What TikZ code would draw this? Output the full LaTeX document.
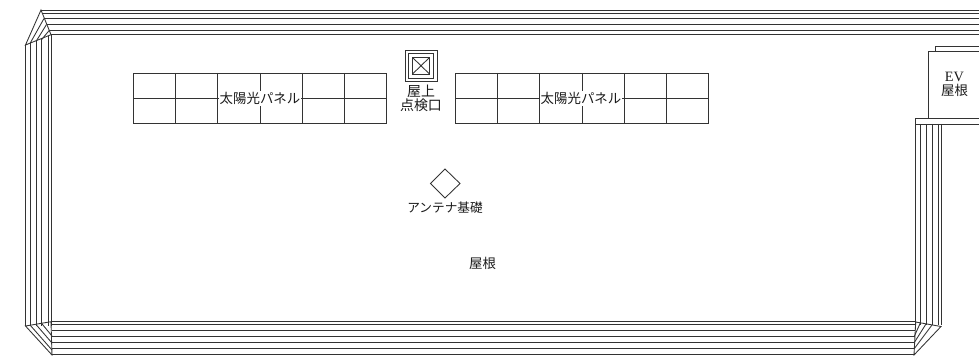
\documentclass[tikz,border=0pt]{standalone}
\usepackage{fontspec}
\setmainfont{Liberation Serif}
\newfontfamily\jp{Noto Sans CJK JP}[Scale=0.95]
\tikzset{
  x=0.75pt,y=-0.75pt,
  ln/.style={draw=black!80,line width=0.65pt},
  lab/.style={font=\jp\fontsize{10.6pt}{11pt}\selectfont,text=black!90,align=center,inner sep=0pt},
  wlab/.style={lab,fill=white,inner xsep=0.6pt,inner ysep=1pt},
}
\begin{document}
\begin{tikzpicture}
\useasboundingbox (0,0) rectangle (979,356);
% top eaves
\foreach \y/\x in {10/41,13/42,18.5/44,24.5/46.5,30.7/49,34.7/51}
  \draw[ln] (\x,\y) -- (979,\y);
% left eaves
\foreach \x/\y in {25.5/45,30/43.5,36/41.5,41.7/39.5,48.3/36,51/34.7}
  \draw[ln] (\x,\y) -- (\x,326);
% TL corner
\draw[ln] (25.5,45) -- (41,10) -- (51,34.7) -- cycle;
\draw[ln] (30,43.5) -- (44,18.5) (36,41.5) -- (46.5,24.5) (41.7,39.5) -- (49,30.7);
% bottom eaves
\foreach \y/\x in {321.7/51,324/52,330.7/52,336.7/52,342.3/52,348.3/52,354.7/52}
  \draw[ln] (\x,\y) -- (915,\y);
% BL corner
\draw[ln] (25.5,326) -- (51,321.7) -- (52,355) -- cycle;
\draw[ln] (30,325) -- (52,350) (36,324.5) -- (52,343) (41.7,323.5) -- (52,336);
% right eaves
\foreach \x in {915.7,920.3,926,932,938.3,941}
  \draw[ln] (\x,124) -- (\x,325);
\draw[ln] (915.7,118.3) -- (915.7,124);
\draw[ln] (915.7,118.3) -- (979,118.3) (915.7,124) -- (979,124);
% BR corner
\draw[ln] (915.7,322) -- (941,326.5) -- (914,355) -- cycle;
\draw[ln] (914,349) -- (932,325) (914,343) -- (926,324) (914,337) -- (920.3,323);
% EV
\draw[ln] (928,118.3) -- (928,51) -- (979,51);
\draw[ln] (935.5,51) -- (935.5,46) -- (979,46);
\node[lab] (ev) at (954.5,84.5) {{\rmfamily\fontsize{10.7pt}{11pt}\selectfont EV}\\屋根};
% panels
\foreach \xa/\n in {133.5/a,455.5/b}{
  \draw[ln] (\xa,73) rectangle ++(253,50.5);
  \draw[ln] (\xa,98.2) -- ++(253,0);
  \foreach \i in {1,...,5} \draw[ln] ({\xa+42.17*\i},73) -- ++(0,50.5);
}
\node[wlab] (p1) at (260,98.2) {太陽光パネル};
\node[wlab] (p2) at (581,98.2) {太陽光パネル};
% hatch
\draw[ln] (405,50) rectangle (437,81.5);
\draw[ln] (408.5,53.5) rectangle (433.5,78);
\draw[ln] (412.5,57.5) rectangle (429.5,74);
\draw[ln] (412.5,57.5) -- (429.5,74) (412.5,74) -- (429.5,57.5);
\node[lab,font=\jp\fontsize{11pt}{10.6pt}\selectfont] (hatch) at (421,98.7) {屋上\\点検口};
% antenna
\draw[ln] (445,169) -- (460,183.5) -- (445,198) -- (430.5,183.5) -- cycle;
\node[lab,font=\jp\fontsize{10pt}{11pt}\selectfont] (ant) at (445,208) {アンテナ基礎};
\node[lab] (roof) at (482.5,263) {屋根};
\end{tikzpicture}
\end{document}
